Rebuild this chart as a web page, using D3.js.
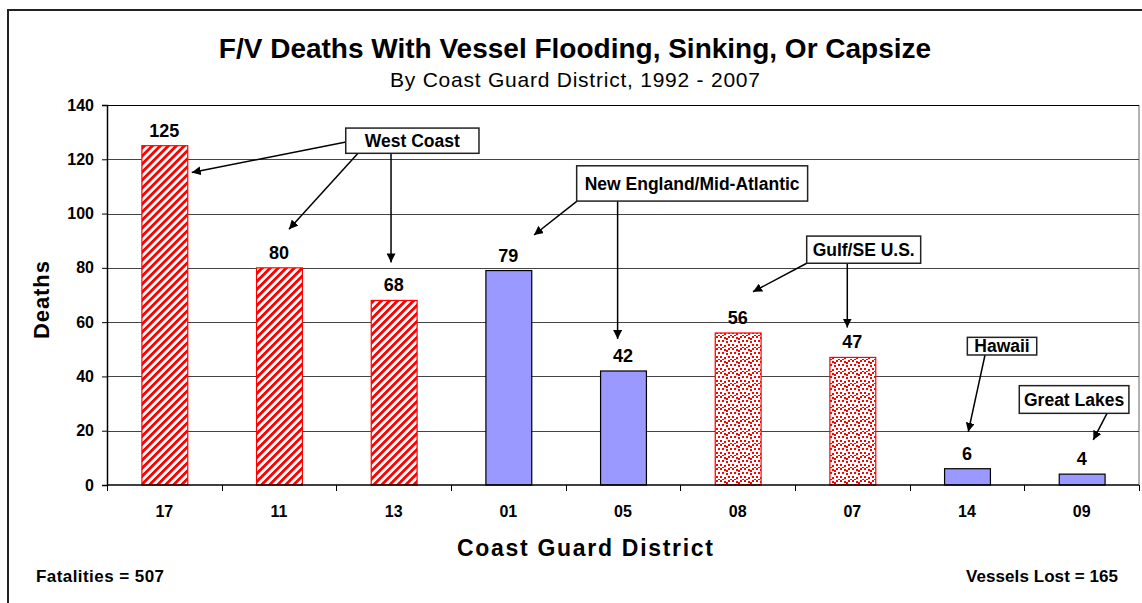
<!DOCTYPE html>
<html>
<head>
<meta charset="utf-8">
<script src="https://cdn.jsdelivr.net/npm/d3@7"></script>
<style>
  body { margin: 0; background: #fff; }
  text { font-family: "Liberation Sans", Arial, sans-serif; fill: #000; }
</style>
</head>
<body>
<script>
// chart data
const districts = ["17", "11", "13", "01", "05", "08", "07", "14", "09"];
const deaths = [125, 80, 68, 79, 42, 56, 47, 6, 4];
const regions = ["West Coast", "West Coast", "West Coast", "New England/Mid-Atlantic",
  "New England/Mid-Atlantic", "Gulf/SE U.S.", "Gulf/SE U.S.", "Hawaii", "Great Lakes"];
const yTicks = [0, 20, 40, 60, 80, 100, 120, 140];

// callout boxes, in category units (x) and deaths (y)
const calloutLabels = ["West Coast", "New England/Mid-Atlantic", "Gulf/SE U.S.", "Hawaii", "Great Lakes"];
const calloutX = [[2.082, 3.244], [4.096, 6.110], [6.102, 7.096], [7.503, 8.108], [7.956, 8.912]];
const calloutY = [[131.5, 122.2], [117.6, 104.6], [91.7, 81.7], [54.4, 47.9], [36.6, 26.4]];
// arrows: [fromX, fromY, toX, toY] in the same units
const arrows = [
  [2.084, 126.4, 0.739, 115.1],
  [2.189, 122.2, 1.587, 94.2],
  [2.477, 122.2, 2.477, 82.0],
  [4.099, 104.6, 3.724, 92.1],
  [4.453, 104.6, 4.453, 53.8],
  [6.102, 81.7, 5.634, 71.2],
  [6.456, 81.7, 6.456, 58.0],
  [7.657, 47.9, 7.511, 19.6],
  [8.721, 26.4, 8.601, 16.6]
];

const W = 1142, H = 603;
const plot = { left: 107, right: 1139, top: 105, bottom: 485 };

const svg = d3.select("body").append("svg")
  .attr("width", W).attr("height", H);

// patterns
const defs = svg.append("defs");
const stripe = defs.append("pattern")
  .attr("id", "stripe")
  .attr("patternUnits", "userSpaceOnUse")
  .attr("width", 5.66).attr("height", 5.66)
  .attr("patternTransform", "rotate(45)");
stripe.append("rect").attr("width", 5.66).attr("height", 5.66).attr("fill", "#fff");
stripe.append("rect").attr("width", 2.9).attr("height", 5.66).attr("fill", "#ff0000");

const dots = defs.append("pattern")
  .attr("id", "dots")
  .attr("patternUnits", "userSpaceOnUse")
  .attr("width", 12).attr("height", 12);
dots.append("rect").attr("width", 12).attr("height", 12).attr("fill", "#fff");
[[0, 0], [4, 1], [8, 0], [2, 4], [6, 5], [10, 4], [0, 8], [4, 9], [8, 8], [10, 11], [2, 11], [6, 2]]
  .forEach(([dx, dy]) => {
    dots.append("rect").attr("x", dx).attr("y", dy)
      .attr("width", 2).attr("height", 2).attr("fill", "#ff0000");
  });

const fillFor = (r) => r === "West Coast" ? "url(#stripe)"
  : r === "Gulf/SE U.S." ? "url(#dots)" : "#9999ff";
const strokeFor = (r) => (r === "West Coast" || r === "Gulf/SE U.S.") ? "#ff0000" : "#000";

const marker = defs.append("marker")
  .attr("id", "arrow")
  .attr("viewBox", "0 0 10 10")
  .attr("refX", 10).attr("refY", 5)
  .attr("markerWidth", 9).attr("markerHeight", 9)
  .attr("markerUnits", "userSpaceOnUse")
  .attr("orient", "auto");
marker.append("path").attr("d", "M0,0 L10,5 L0,10 z").attr("fill", "#000");

// outer frame
svg.append("rect")
  .attr("x", 8).attr("y", 10)
  .attr("width", W).attr("height", H)
  .attr("fill", "none").attr("stroke", "#222").attr("stroke-width", 2);

// scales
const x = d3.scaleBand().domain(districts)
  .range([plot.left, plot.right]).paddingInner(0.6).paddingOuter(0.3);
const xu = d3.scaleLinear().domain([0, districts.length]).range([plot.left, plot.right]);
const y = d3.scaleLinear().domain([0, 140]).range([plot.bottom, plot.top]);

// plot frame right side
svg.append("line")
  .attr("x1", plot.right).attr("x2", plot.right)
  .attr("y1", plot.top).attr("y2", plot.bottom)
  .attr("stroke", "#999").attr("stroke-width", 1.5);

// gridlines
svg.append("g").selectAll("line")
  .data(yTicks.slice(1))
  .join("line")
  .attr("x1", plot.left).attr("x2", plot.right)
  .attr("y1", (d) => Math.round(y(d)) + 0.5).attr("y2", (d) => Math.round(y(d)) + 0.5)
  .attr("stroke", (d) => d === 140 ? "#000" : "#444")
  .attr("stroke-width", 1);

// y axis
const yAxis = svg.append("g")
  .attr("transform", `translate(${plot.left},0)`)
  .call(d3.axisLeft(y).tickValues(yTicks).tickSize(5).tickPadding(8));
yAxis.select(".domain").attr("stroke", "#000").attr("stroke-width", 1.5);
yAxis.selectAll(".tick line").attr("stroke", "#000");
yAxis.selectAll("text")
  .attr("font-family", "Liberation Sans, Arial, sans-serif")
  .attr("font-size", 16).attr("font-weight", "bold").attr("fill", "#000");

// bars
svg.append("g").selectAll("rect")
  .data(districts)
  .join("rect")
  .attr("x", (d) => x(d) + 0.5)
  .attr("y", (d, i) => y(deaths[i]))
  .attr("width", x.bandwidth())
  .attr("height", (d, i) => y(0) - y(deaths[i]))
  .attr("fill", (d, i) => fillFor(regions[i]))
  .attr("stroke", (d, i) => strokeFor(regions[i]))
  .attr("stroke-width", 1.2);

// x axis
const xAxisG = svg.append("g");
xAxisG.append("line")
  .attr("x1", plot.left).attr("x2", plot.right)
  .attr("y1", plot.bottom).attr("y2", plot.bottom)
  .attr("stroke", "#000").attr("stroke-width", 1.5);
xAxisG.selectAll("line.tk")
  .data(d3.range(districts.length + 1))
  .join("line")
  .attr("class", "tk")
  .attr("x1", (d) => Math.round(xu(d)) + 0.5).attr("x2", (d) => Math.round(xu(d)) + 0.5)
  .attr("y1", plot.bottom).attr("y2", plot.bottom + 6)
  .attr("stroke", "#000");
xAxisG.selectAll("text")
  .data(districts)
  .join("text")
  .attr("x", (d) => x(d) + x.bandwidth() / 2)
  .attr("y", 517)
  .attr("text-anchor", "middle")
  .attr("font-size", 16).attr("font-weight", "bold")
  .text((d) => d);

// value labels
svg.append("g").selectAll("text")
  .data(districts)
  .join("text")
  .attr("x", (d) => x(d) + x.bandwidth() / 2)
  .attr("y", (d, i) => y(deaths[i]) - 9)
  .attr("text-anchor", "middle")
  .attr("font-size", 18).attr("font-weight", "bold")
  .text((d, i) => deaths[i]);

// callout arrows
svg.append("g").selectAll("line")
  .data(arrows)
  .join("line")
  .attr("x1", (d) => xu(d[0])).attr("y1", (d) => y(d[1]))
  .attr("x2", (d) => xu(d[2])).attr("y2", (d) => y(d[3]))
  .attr("stroke", "#000").attr("stroke-width", 1.5)
  .attr("marker-end", "url(#arrow)");

// callout boxes
const boxes = svg.append("g").selectAll("g")
  .data(calloutLabels)
  .join("g");
boxes.append("rect")
  .attr("x", (d, i) => xu(calloutX[i][0]))
  .attr("y", (d, i) => y(calloutY[i][0]))
  .attr("width", (d, i) => xu(calloutX[i][1]) - xu(calloutX[i][0]))
  .attr("height", (d, i) => y(calloutY[i][1]) - y(calloutY[i][0]))
  .attr("fill", "#fff").attr("stroke", "#222").attr("stroke-width", 1.5);
boxes.append("text")
  .attr("x", (d, i) => (xu(calloutX[i][0]) + xu(calloutX[i][1])) / 2)
  .attr("y", (d, i) => (y(calloutY[i][0]) + y(calloutY[i][1])) / 2)
  .attr("dy", "0.36em")
  .attr("text-anchor", "middle")
  .attr("font-size", 17.5).attr("font-weight", "bold")
  .text((d) => d);

// titles
svg.append("text")
  .attr("x", 575).attr("y", 58)
  .attr("text-anchor", "middle")
  .attr("font-size", 28).attr("font-weight", "bold")
  .text("F/V Deaths With Vessel Flooding, Sinking, Or Capsize");
svg.append("text")
  .attr("x", 575).attr("y", 87)
  .attr("text-anchor", "middle")
  .attr("font-size", 21)
  .attr("textLength", 370).attr("lengthAdjust", "spacing")
  .text("By Coast Guard District, 1992 - 2007");

svg.append("text")
  .attr("x", 585).attr("y", 556)
  .attr("text-anchor", "middle")
  .attr("font-size", 23).attr("font-weight", "bold")
  .attr("textLength", 256).attr("lengthAdjust", "spacing")
  .text("Coast Guard District");
svg.append("text")
  .attr("transform", "translate(49,300) rotate(-90)")
  .attr("text-anchor", "middle")
  .attr("font-size", 22).attr("font-weight", "bold")
  .attr("textLength", 78).attr("lengthAdjust", "spacing")
  .text("Deaths");

// footer notes
svg.append("text")
  .attr("x", 36).attr("y", 582)
  .attr("font-size", 17).attr("font-weight", "bold")
  .attr("textLength", 128).attr("lengthAdjust", "spacing")
  .text("Fatalities = 507");
svg.append("text")
  .attr("x", 1118).attr("y", 582)
  .attr("text-anchor", "end")
  .attr("font-size", 17).attr("font-weight", "bold")
  .attr("textLength", 152).attr("lengthAdjust", "spacing")
  .text("Vessels Lost = 165");
</script>
</body>
</html>
